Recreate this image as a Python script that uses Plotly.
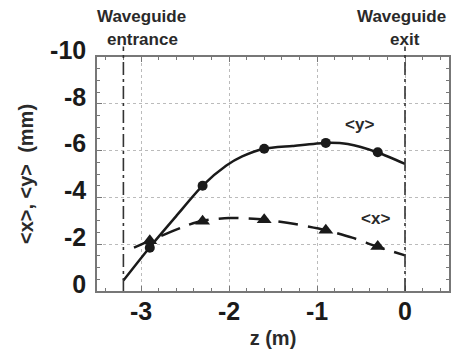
import plotly.graph_objects as go

# ---- data ----
z_markers = [-2.9, -2.3, -1.6, -0.9, -0.31]
y_markers = [-1.85, -4.5, -6.08, -6.33, -5.93]
x_markers = [-2.15, -2.98, -3.05, -2.6, -1.9]

z_ycurve = [-3.2, -2.9, -2.6, -2.3, -2.03, -1.85, -1.6, -1.28, -0.9, -0.65, -0.31, 0.0]
y_curve = [-0.45, -1.87, -3.2, -4.5, -5.36, -5.75, -6.08, -6.2, -6.33, -6.28, -5.92, -5.43]

z_xcurve = [-3.08, -2.9, -2.48, -2.3, -2.0, -1.6, -1.25, -0.9, -0.6, -0.32, 0.0]
x_curve = [-1.85, -2.15, -2.8, -3.0, -3.12, -3.05, -2.86, -2.6, -2.28, -1.9, -1.52]

z_entrance = -3.2
z_exit = 0.0

x_ticks = [-3, -2, -1, 0]
y_ticks = [0, -2, -4, -6, -8, -10]

FONT = "Liberation Sans, Arial, sans-serif"
INK = "#1a1a1a"
GREY_TXT = "#2a2a2a"

fig = go.Figure()

fig.add_trace(go.Scatter(x=z_ycurve, y=y_curve, mode="lines",
                         line=dict(color=INK, width=2.5, shape="spline", smoothing=0.7),
                         showlegend=False, hoverinfo="skip"))
fig.add_trace(go.Scatter(x=z_xcurve, y=x_curve, mode="lines",
                         line=dict(color=INK, width=2.5, shape="spline", smoothing=0.7,
                                   dash="20px,10px"),
                         showlegend=False, hoverinfo="skip"))
fig.add_trace(go.Scatter(x=z_markers, y=y_markers, mode="markers",
                         marker=dict(symbol="circle", size=10, color=INK),
                         showlegend=False))
fig.add_trace(go.Scatter(x=z_markers, y=x_markers, mode="markers",
                         marker=dict(symbol="triangle-up", size=13, color=INK),
                         showlegend=False))

for zz in (z_entrance, z_exit):
    fig.add_shape(type="line", xref="x", yref="paper", x0=zz, x1=zz, y0=0, y1=1.045,
                  line=dict(color="#333333", width=1.6, dash="13px,4px,3px,4px"))

ann_font = dict(family=FONT, size=17, color=GREY_TXT)
for txt, zx, yp in [("<b>Waveguide</b>", -3.0, 1.172), ("<b>entrance</b>", -2.98, 1.075),
                    ("<b>Waveguide</b>", -0.04, 1.172), ("<b>exit</b>", 0.0, 1.075)]:
    fig.add_annotation(x=zx, y=yp, xref="x", yref="paper", text=txt, showarrow=False,
                       yanchor="middle", xanchor="center", font=ann_font)
fig.add_annotation(x=-0.52, y=-7.1, xref="x", yref="y", text="<b>&lt;y&gt;</b>",
                   showarrow=False, font=ann_font)
fig.add_annotation(x=-0.34, y=-3.1, xref="x", yref="y", text="<b>&lt;x&gt;</b>",
                   showarrow=False, font=ann_font)

axis_common = dict(
    showline=True, linecolor="#777777", linewidth=1.5, mirror="allticks",
    ticks="inside", ticklen=5, tickcolor="#777777", tickwidth=1,
    showgrid=True, gridcolor="#bbbbbb", griddash="dot", gridwidth=1,
    zeroline=False,
    tickfont=dict(family=FONT, size=25, color=INK, weight="bold"),
)

fig.update_xaxes(range=[-3.5, 0.5], tickvals=x_ticks, ticktext=[str(v) for v in x_ticks],
                 minor=dict(dtick=0.2, tick0=0, ticks="inside", ticklen=3, tickcolor="#777777",
                            showgrid=False),
                 ticklabelstandoff=-3,
                 title=dict(text="<b>z (m)</b>", font=dict(family=FONT, size=20, color=GREY_TXT),
                            standoff=7),
                 **axis_common)
fig.update_yaxes(range=[0, -10], tickvals=y_ticks, ticktext=[str(v) for v in y_ticks],
                 minor=dict(dtick=0.5, tick0=0, ticks="inside", ticklen=3, tickcolor="#777777",
                            showgrid=False),
                 ticklabelstandoff=4, ticklabelshift=7,
                 title=dict(text="<b>&lt;x&gt;, &lt;y&gt;  (mm)</b>",
                            font=dict(family=FONT, size=20, color=GREY_TXT), standoff=11),
                 **axis_common)

# page body has an 8px margin, so the figure is offset by 8px; compensate in size/margins
fig.update_layout(width=454, height=341,
                  margin=dict(l=89, r=13, t=49, b=58, autoexpand=False),
                  plot_bgcolor="white", paper_bgcolor="white",
                  font=dict(family=FONT, color=INK))

fig.write_html("out.html")
